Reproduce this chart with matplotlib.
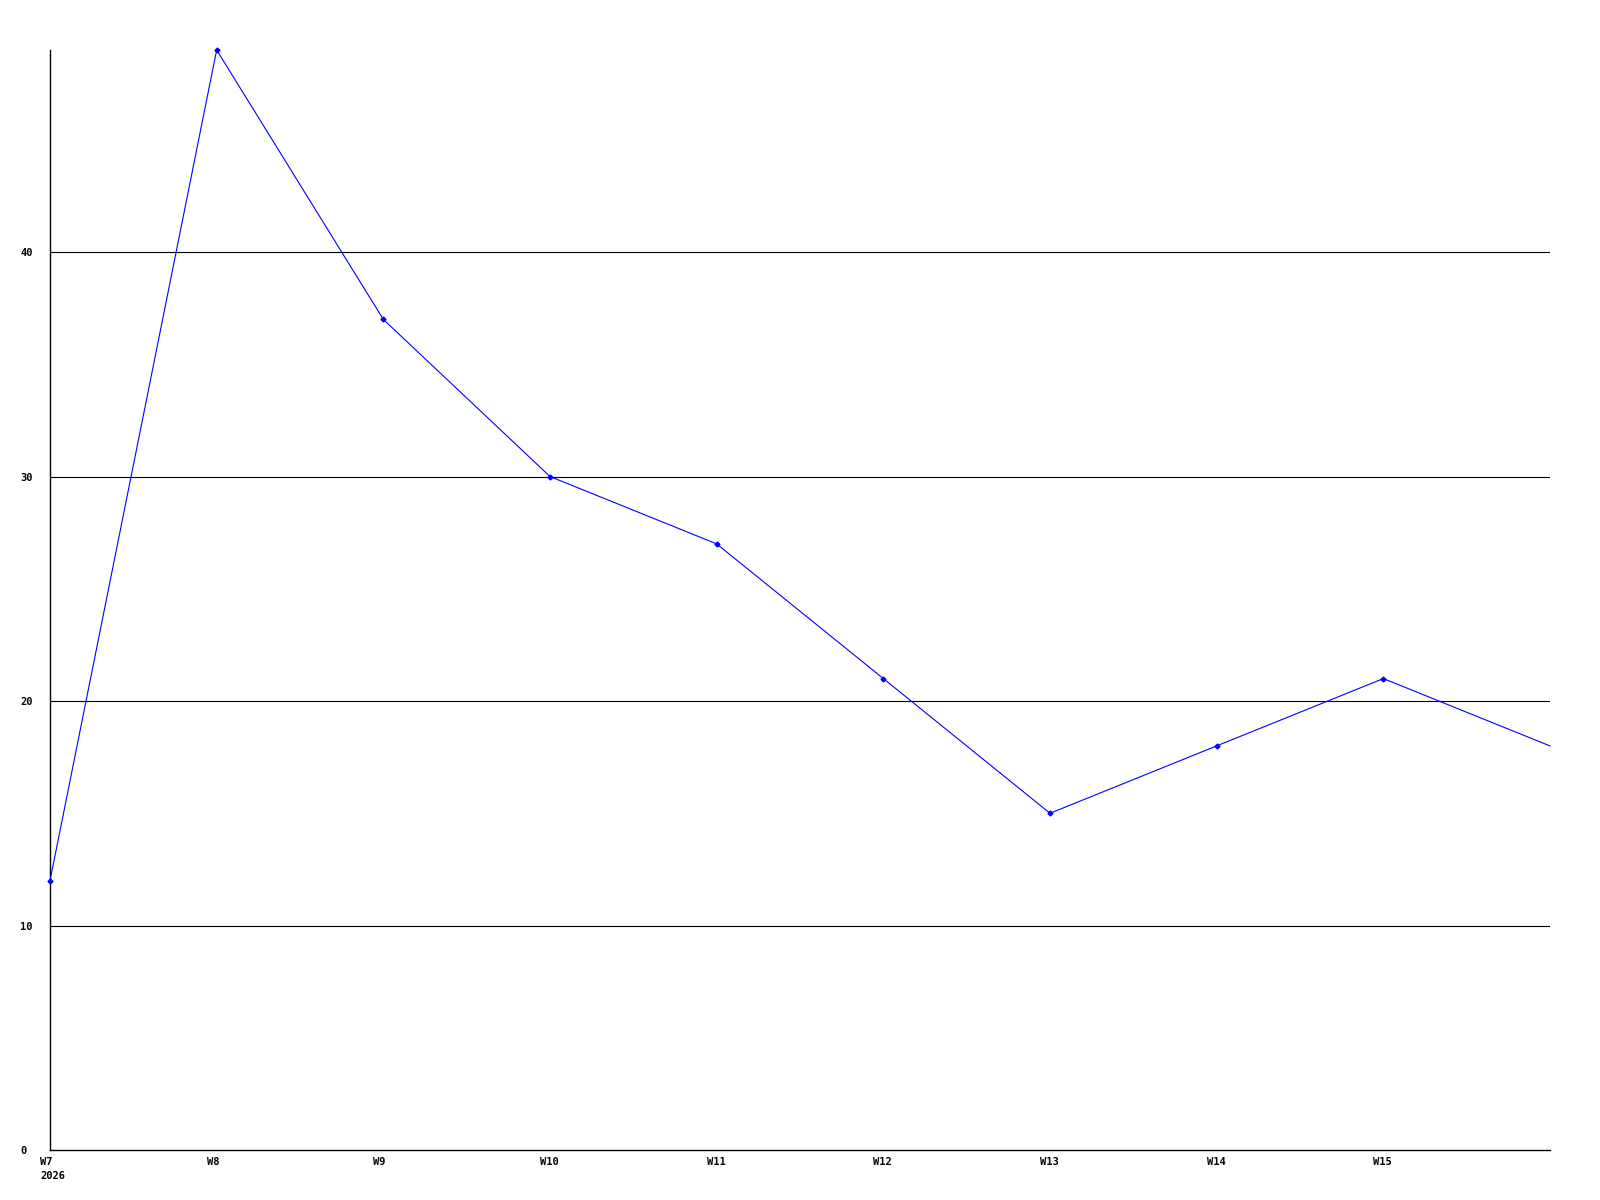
import matplotlib
matplotlib.use("Agg")
import matplotlib.pyplot as plt
import matplotlib.transforms as mtransforms

weeks = ["W7\n2026", "W8", "W9", "W10", "W11", "W12", "W13", "W14", "W15", ""]
values = [12, 49, 37, 30, 27, 21, 15, 18, 21, 18]
yticks = [0, 10, 20, 30, 40]

fig = plt.figure(figsize=(16, 12), dpi=100)
ax = fig.add_axes([50/1600, 50/1200, 1500/1600, 1100/1200])

x = list(range(len(values)))
ax.plot(x, values, color="#0000ff", linewidth=0.8, marker="D", markersize=2.5,
        markerfacecolor="#0000ff", markeredgecolor="#0000ff", zorder=3,
        markevery=list(range(len(values) - 1)), clip_on=False)

ax.set_xlim(0, len(values) - 1)
ax.set_ylim(0, 49)

for v in yticks[1:]:
    ax.axhline(v, color="black", linewidth=0.8, zorder=1)

for s in ["top", "right"]:
    ax.spines[s].set_visible(False)
for s in ["left", "bottom"]:
    ax.spines[s].set_linewidth(1.0)
    ax.spines[s].set_color("black")

ax.set_xticks(x[:-1])
ax.set_xticklabels(weeks[:-1], fontfamily="DejaVu Sans Mono", fontweight="bold",
                   fontsize=7.5, linespacing=1.5)
ax.set_yticks(yticks)
ax.set_yticklabels([str(v) for v in yticks], fontfamily="DejaVu Sans Mono", fontweight="bold", fontsize=7.5)
ax.tick_params(axis="both", length=0)
ax.tick_params(axis="x", pad=5)
ax.tick_params(axis="y", pad=21.5)

off = mtransforms.ScaledTranslation(-10/100, 0, fig.dpi_scale_trans)
for lab in ax.get_xticklabels():
    lab.set_horizontalalignment("left")
    lab.set_transform(lab.get_transform() + off)
for lab in ax.get_yticklabels():
    lab.set_horizontalalignment("left")

fig.savefig("out.png", dpi=100, facecolor="white")
